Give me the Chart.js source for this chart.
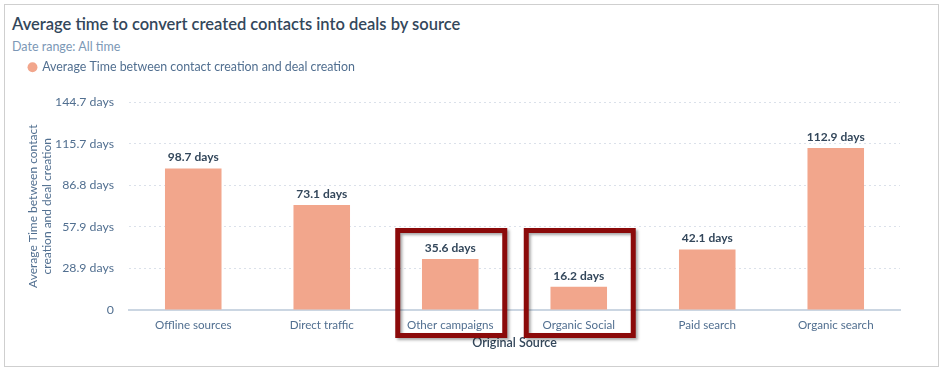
<!DOCTYPE html>
<html>
<head>
<meta charset="utf-8">
<script src="https://cdn.jsdelivr.net/npm/chart.js@4.4.1/dist/chart.umd.min.js"></script>
<style>
  html, body { margin: 0; padding: 0; background: #fff; }
  body { width: 945px; height: 373px; position: relative; overflow: hidden; font-family: Lato, "Open Sans", sans-serif; }
  .card { position: absolute; left: 4px; top: 4px; width: 935px; height: 363px; border: 1px solid #cfcfcf; box-sizing: border-box; }
  .title { position: absolute; left: 7px; top: 9px; font-size: 16.5px; font-weight: 600; color: #33475b; white-space: nowrap; }
  .subtitle { position: absolute; left: 7px; top: 34px; font-size: 12.5px; color: #7c98b6; white-space: nowrap; }
  .chart-box { position: absolute; left: 1px; top: 53px; width: 930px; height: 292px; }
</style>
</head>
<body>
<div class="card">
  <div class="title">Average time to convert created contacts into deals by source</div>
  <div class="subtitle">Date range: All time</div>
  <div class="chart-box"><canvas id="sourceChart"></canvas></div>
</div>
<script>
// 数据
const categories = ['Offline sources', 'Direct traffic', 'Other campaigns', 'Organic Social', 'Paid search', 'Organic search'];
const avgDays = [98.7, 73.1, 35.6, 16.2, 42.1, 112.9];
const tickLabels = ['0', '28.9 days', '57.9 days', '86.8 days', '115.7 days', '144.7 days'];
const axisMax = 144.68;
const highlighted = [2, 3];

const BAR_COLOR = '#f2a68c';
const TEXT_DARK = '#33475b';
const TEXT_GRAY = '#516f90';
const FONT = 'Lato, "Open Sans", sans-serif';

// 图例下方留白
const legendGap = {
    id: 'legendGap',
    beforeInit(chart) {
        const fit = chart.legend.fit;
        chart.legend.fit = function() {
            fit.bind(chart.legend)();
            this.height += 19;
        };
    }
};

// 柱顶数值标签
const valueLabels = {
    id: 'valueLabels',
    afterDatasetsDraw(chart) {
        const ctx = chart.ctx;
        const meta = chart.getDatasetMeta(0);
        ctx.save();
        ctx.font = 'bold 12px ' + FONT;
        ctx.fillStyle = TEXT_DARK;
        ctx.textAlign = 'center';
        ctx.textBaseline = 'bottom';
        meta.data.forEach((bar, i) => {
            ctx.fillText(avgDays[i] + ' days', bar.x, bar.y - 5);
        });
        ctx.restore();
    }
};

// 红色高亮框
const highlightBoxes = {
    id: 'highlightBoxes',
    afterDraw(chart) {
        const ctx = chart.ctx;
        const x = chart.scales.x;
        const area = chart.chartArea;
        ctx.save();
        ctx.lineWidth = 5;
        ctx.strokeStyle = '#8b0a0a';
        ctx.shadowColor = 'rgba(0,0,0,0.35)';
        ctx.shadowOffsetX = 2;
        ctx.shadowOffsetY = 2;
        ctx.shadowBlur = 3;
        highlighted.forEach(i => {
            const cx = x.getPixelForValue(i) + 1;
            ctx.strokeRect(cx - 53.5, area.bottom - 79.5, 107, 105);
        });
        ctx.restore();
    }
};

const ctx = document.getElementById('sourceChart');
new Chart(ctx, {
    type: 'bar',
    data: {
        labels: categories,
        datasets: [{
            label: 'Average Time between contact creation and deal creation',
            data: avgDays,
            backgroundColor: BAR_COLOR,
            borderWidth: 0,
            categoryPercentage: 1,
            barPercentage: 0.44
        }]
    },
    options: {
        responsive: true,
        maintainAspectRatio: false,
        animation: false,
        layout: {
            padding: { left: 20, right: 36, top: 0, bottom: 0 }
        },
        plugins: {
            legend: {
                align: 'start',
                labels: {
                    usePointStyle: true,
                    pointStyle: 'circle',
                    boxWidth: 7,
                    boxHeight: 7,
                    color: TEXT_GRAY,
                    font: { family: FONT, size: 12.4 },
                    padding: 3
                }
            },
            tooltip: { enabled: false }
        },
        scales: {
            x: {
                afterFit: function(scale) { scale.height = 40; },
                grid: { display: false, drawTicks: false },
                border: { color: '#cbd6e2', width: 2 },
                ticks: {
                    color: TEXT_GRAY,
                    padding: 8,
                    font: { family: FONT, size: 11.6 }
                },
                title: {
                    display: true,
                    text: 'Original Source',
                    color: TEXT_DARK,
                    padding: { top: 0, bottom: 0 },
                    font: { family: FONT, size: 12.5, weight: '600' }
                }
            },
            y: {
                min: 0,
                max: axisMax,
                afterFit: function(scale) { scale.width = 103; },
                ticks: {
                    stepSize: axisMax / 5,
                    color: TEXT_GRAY,
                    padding: 15,
                    font: { family: FONT, size: 12.3 },
                    callback: function(value, index) {
                        return tickLabels[index];
                    }
                },
                grid: {
                    drawTicks: false,
                    color: function(context) {
                        return context.index === 0 ? 'rgba(0,0,0,0)' : '#dbe1ea';
                    }
                },
                border: { display: false, dash: [2, 3] },
                title: {
                    display: true,
                    text: ['Average Time between contact', 'creation and deal creation'],
                    color: TEXT_GRAY,
                    padding: { top: 0, bottom: 0 },
                    font: { family: FONT, size: 12 }
                }
            }
        }
    },
    plugins: [legendGap, valueLabels, highlightBoxes]
});
</script>
</body>
</html>
